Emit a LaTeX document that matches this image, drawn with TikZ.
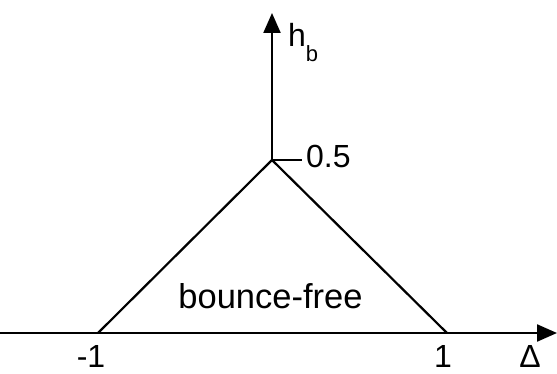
\documentclass[tikz,border=0pt]{standalone}
\usepackage{fontspec}
\setmainfont{Liberation Sans}
\usetikzlibrary{arrows.meta}
\begin{document}
\begin{tikzpicture}[x=1pt,y=-1pt,
  axis/.style={line width=2.2pt,-{Triangle[length=20pt,width=17pt]}},
  edge/.style={line width=2.2pt},
  lbl/.style={inner sep=0pt,font=\fontsize{32}{36}\selectfont},
  big/.style={inner sep=0pt,font=\fontsize{34.5}{38}\selectfont}]
\useasboundingbox (0,0) rectangle (557,374);
\coordinate (xs) at (0,333);
\coordinate (xe) at (557,333);
\coordinate (ye) at (272,13);
\coordinate (apex) at (272,160);
\coordinate (left) at (98,333);
\coordinate (right) at (447,333);
\coordinate (tick) at (302,160);
\draw[axis] (xs) -- (xe);
\draw[axis] (apex) -- (ye);
\draw[edge,line join=miter] (left) -- (apex) -- (right);
\draw[edge] (apex) -- (tick);
\node[lbl,anchor=base west] (half) at (306,168) {0.5};
\node[lbl,anchor=base west] (hb) at (288,47) {h\raisebox{-15pt}{\fontsize{22}{22}\selectfont b}};
\node[lbl,anchor=base] (m1) at (91,367) {-1};
\node[lbl,anchor=base] (p1) at (443,367) {1};
\node[lbl,anchor=base] (dl) at (530,367) {Δ};
\node[big,anchor=base] (bf) at (270.5,308) {bounce-free};
\end{tikzpicture}
\end{document}
